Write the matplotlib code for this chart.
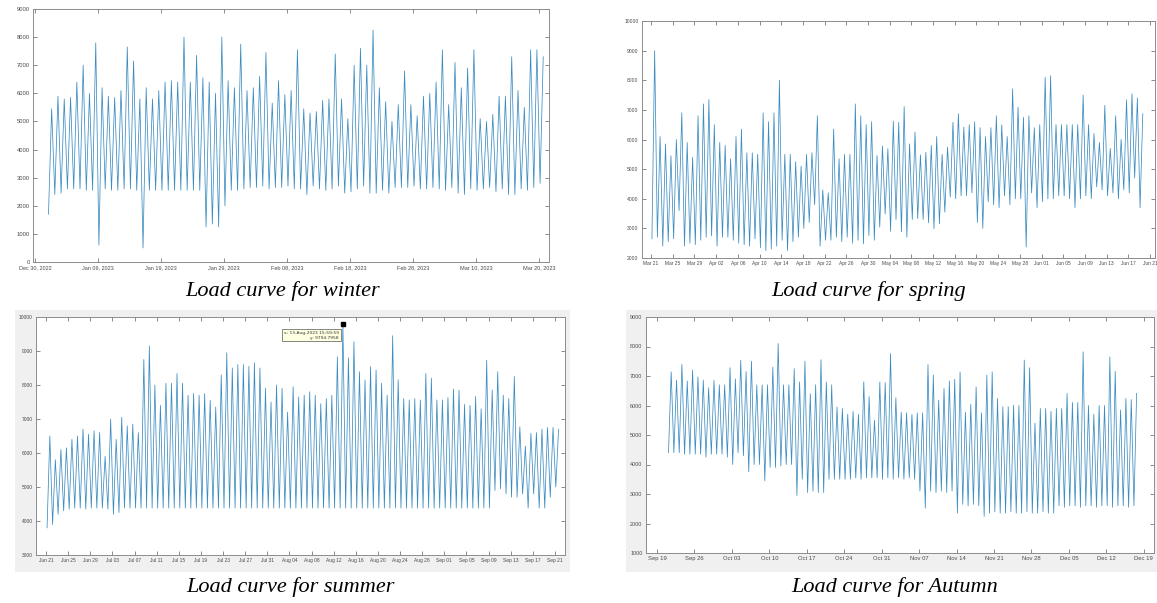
"""seasonal load curves: four panels (winter, spring, summer, autumn)"""

import numpy as np
import pandas as pd
import matplotlib
matplotlib.use("Agg")
import matplotlib.pyplot as plt
import matplotlib.dates as mdates
from matplotlib.patches import Rectangle

###################################################################################################
#                                              DATA                                               #

# daily minimum / maximum load (one value per day)
WINTER_START = "2023-01-01"
winter_low = [
    1700, 2400, 2450, 2600, 2600, 2600, 2550, 2550, 600, 2600,
    2550, 2550, 2600, 2600, 2550, 500, 2550, 2550, 2550, 2550,
    2550, 2550, 2550, 2550, 2550, 1250, 1350, 1250, 2000, 2550,
    2550, 2600, 2650, 2650, 2700, 2600, 2650, 2650, 2700, 2600,
    2600, 2400, 2700, 2600, 2550, 2600, 2700, 2450, 2500, 2600,
    2700, 2450, 2450, 2550, 2450, 2650, 2650, 2650, 2700, 2600,
    2600, 2650, 2600, 2550, 2650, 2450, 2400, 2600, 2550, 2600,
    2650, 2500, 2600, 2400, 2400, 2600, 2550, 2650, 2800,
]
winter_high = [
    5450, 5900, 5800, 5850, 6400, 7000, 6000, 7800, 6200, 5900,
    5850, 6100, 7650, 7150, 5800, 6200, 5800, 6100, 6400, 6450,
    6400, 8000, 6400, 7350, 6550, 6400, 6000, 8000, 6450, 6200,
    7750, 6100, 6200, 6600, 7450, 5650, 6450, 5950, 6100, 7550,
    5450, 5300, 5350, 5750, 5800, 7400, 5800, 5100, 7000, 7600,
    7000, 8250, 6200, 5700, 5000, 5600, 6800, 5600, 5200, 5900,
    6000, 6400, 7550, 5600, 7100, 6200, 6900, 7550, 5100, 5000,
    5250, 5900, 5900, 7300, 6100, 5500, 7550, 7550, 7300,
]

SPRING_START = "2023-03-21"
spring_low = [
    2650, 2700, 2400, 2550, 2650, 3600, 2400, 2500, 2450, 2600,
    2700, 2750, 2400, 2700, 2700, 2600, 2500, 2450, 2400, 2650,
    2350, 2250, 2300, 2400, 2600, 2250, 2550, 2700, 3000, 3200,
    3800, 2400, 2600, 2600, 2700, 2550, 2700, 2500, 2600,
    2480, 2760, 2600, 3040, 3490, 2900, 3300, 2880, 2700, 3300,
    3330, 3300, 3190, 2990, 3160, 3550, 4060, 4000, 4100, 4100,
    4200, 3200, 3000, 3900, 3800, 3700, 4100, 3800, 4000, 4000,
    2370, 4200, 3700, 3900, 4000, 4000, 4100, 4100, 4000, 3700,
    4000, 4100, 4000, 4400, 4300, 4100, 4200, 4000, 4300, 4200,
    4700, 3700,
]
spring_high = [
    9000, 6100, 5850, 5450, 6000, 6900, 5900, 5400, 6800, 7200,
    7350, 6500, 5900, 5800, 5350, 6100, 6350, 5550, 5550, 5500,
    6900, 6600, 6900, 8000, 5500, 5500, 5250, 5100, 5500, 5550,
    6800, 4300, 4200, 6350, 5350, 5500, 5500, 7200, 6800,
    6500, 6600, 5460, 5780, 5690, 6620, 6580, 7110, 5850, 6250,
    5480, 5570, 5800, 6100, 5500, 5740, 6580, 6870, 6420, 6500,
    6600, 6400, 6100, 6400, 6800, 6500, 6100, 7710, 7090, 6750,
    6800, 6400, 6500, 8100, 8150, 6500, 6500, 6500, 6500, 6500,
    7500, 6500, 6200, 5900, 7150, 5700, 6800, 6000, 7340, 7540,
    7400, 6870,
]

SUMMER_START = "2023-06-21"
summer_low = [
    3800, 3900, 4200, 4300, 4350, 4380, 4380, 4350, 4380, 4380,
    4380, 4350, 4200, 4250, 4380, 4380, 4380, 4380, 4380, 4380,
    4380, 4380, 4380, 4380, 4380, 4380, 4380, 4380, 4380, 4380,
    4380, 4380, 4380, 4380, 4380, 4380, 4380, 4380, 4380, 4380,
    4380, 4380, 4380, 4380, 4380, 4380, 4380, 4380, 4380, 4380,
    4380, 4380, 4380, 4380, 4380, 4380, 4380, 4380, 4380, 4380,
    4380, 4380, 4380, 4380, 4380, 4380, 4380, 4380, 4380, 4380,
    4380, 4380, 4380, 4380, 4380, 4380, 4380, 4380, 4380, 4380,
    4380, 4900, 4950, 4800, 4700, 4700, 4800, 4380, 4800, 4380,
    4380, 4700, 5000,
]
summer_high = [
    6500, 5800, 6100, 6150, 6400, 6500, 6700, 6550, 6650, 6600,
    5900, 7000, 6400, 7050, 6800, 6850, 6600, 8750, 9150, 8000,
    7400, 8050, 8050, 8340, 8050, 7700, 7750, 7700, 7750, 7550,
    7350, 8300, 8950, 8500, 8600, 8600, 8550, 8650, 8500, 7900,
    7500, 8000, 7900, 7200,
    7950, 7650, 7700, 7800, 7700, 7450, 7600, 7700, 8830, 9794.7958,
    8800, 9270, 8390, 8150, 8540, 8440, 8050, 7700, 9450, 8150,
    7600, 7560, 7600, 7560, 8340, 8200, 7560, 7560, 7630, 7880,
    7850, 7430, 7400, 7660, 7300, 8730, 7850, 8390, 7700, 7600,
    8250, 6770, 6200, 6580, 6600, 6700, 6750, 6750, 6700,
]

AUTUMN_START = "2023-09-21"
autumn_low = [
    4400, 4400, 4400, 4350, 4350, 4350, 4350, 4250, 4350, 4350,
    4350, 4250, 4000, 4400, 4300, 3750, 4000, 4000, 3450, 3900,
    3900, 3950, 4000, 4000, 2950, 3500, 3050, 3100, 3050, 3050,
    3500, 3500, 3500, 3500, 3500, 3550, 3500, 3550,
    3550, 3550, 3500, 3550, 3500, 3550, 3500, 3550, 3500, 3100,
    2520, 3100, 3050, 3100, 3050, 3100, 2350, 2650, 2600, 2650,
    2600, 2240, 2350, 2400, 2350, 2350, 2400, 2350, 2350, 2400,
    2350, 2350, 2400, 2350, 2350, 2600, 2550, 2600, 2600, 2550,
    2600, 2600, 2550, 2600, 2600, 2550, 2600, 2600, 2550, 2600,
]
autumn_high = [
    7140, 6860, 7390, 6830, 7200, 6970, 6860, 6600, 6850, 6700,
    6700, 7280, 6900, 7530, 7150, 7500, 6700, 6700, 6700, 7300,
    8100, 6700, 6700, 7250, 6800, 7500, 6400, 6700, 7550, 6800,
    6700, 5950, 5900, 5700, 5800, 5700, 6800, 6300,
    5500, 6800, 6780, 7760, 6260, 5770, 5750, 5700, 5750, 5750,
    7390, 7030, 6180, 6580, 6830, 6890, 7140, 5770, 6040, 6630,
    5750, 7030, 7140, 6240, 5960, 5960, 6010, 6000, 7540, 7280,
    5400, 5900, 5900, 5800, 5900, 5900, 6410, 6100, 6100, 7820,
    6000, 5700, 6000, 6000, 7650, 7160, 5850, 6240, 6200, 6410,
]

#                                              DATA                                               #
###################################################################################################


def build_series(start, low, high):
    """Return times and values: daily low in the early morning, daily high in the afternoon."""
    days = pd.date_range(start, periods=len(low), freq="D")
    times, values = [], []
    for day, lo, hi in zip(days, low, high):
        times.append(day + pd.Timedelta(hours=4))
        values.append(lo)
        times.append(day + pd.Timedelta(hours=16))
        values.append(hi)
    return pd.to_datetime(times), np.array(values)


def style_axes(ax, yticks, xticks, fmt, xlim, xsize, ysize):
    ax.set_ylim(yticks[0], yticks[-1])
    ax.set_yticks(yticks)
    ax.set_xticks(xticks)
    ax.xaxis.set_major_formatter(mdates.DateFormatter(fmt))
    ax.set_xlim(xlim)
    ax.tick_params(direction="in", top=True, right=True, length=3, width=0.6,
                   color="#777777", labelcolor="#4a4a4a", pad=2.5)
    ax.tick_params(axis="x", labelsize=xsize)
    ax.tick_params(axis="y", labelsize=ysize)
    for lab in ax.get_xticklabels() + ax.get_yticklabels():
        lab.set_family(["Liberation Sans", "DejaVu Sans"])
    for sp in ax.spines.values():
        sp.set_color("#8c8c8c")
        sp.set_linewidth(0.7)


LINE_KW = dict(color="#3b8cc1", lw=0.55)
CAP_KW = dict(ha="center", va="center", fontsize=16, style="italic",
              family=["Liberation Serif", "DejaVu Serif"])

fig = plt.figure(figsize=(11.57, 6.03), dpi=100)

# grey window backgrounds of the two lower screenshots
fig.add_artist(Rectangle((15/1157, 1-572/603), 555/1157, 262/603, transform=fig.transFigure,
                         facecolor="#f0f0f0", edgecolor="none", zorder=0))
fig.add_artist(Rectangle((626/1157, 1-572/603), 531/1157, 262/603, transform=fig.transFigure,
                         facecolor="#f0f0f0", edgecolor="none", zorder=0))

# winter
ax = fig.add_axes([33/1157, 1-262/603, 516/1157, 253/603])
t, v = build_series(WINTER_START, winter_low, winter_high)
ax.plot(t, v, **LINE_KW)
style_axes(ax, np.arange(0, 9001, 1000), pd.date_range("2022-12-30", periods=9, freq="10D"),
           "%b %d, %Y", (pd.Timestamp("2022-12-29 17:00"), pd.Timestamp("2023-03-21 14:00")),
           4.0, 4.2)

# spring
ax = fig.add_axes([642/1157, 1-258/603, 513/1157, 237/603])
t, v = build_series(SPRING_START, spring_low, spring_high)
ax.plot(t, v, **LINE_KW)
style_axes(ax, np.arange(2000, 10001, 1000), pd.date_range("2023-03-21", "2023-06-21", freq="4D"),
           "%b %d", (pd.Timestamp("2023-03-19 08:00"), pd.Timestamp("2023-06-21 22:00")),
           3.5, 3.6)

# summer
ax = fig.add_axes([36/1157, 1-555/603, 529/1157, 238/603])
t, v = build_series(SUMMER_START, summer_low, summer_high)
ax.plot(t, v, **LINE_KW)
style_axes(ax, np.arange(3000, 10001, 1000), pd.date_range("2023-06-21", "2023-09-21", freq="4D"),
           "%b %d", (pd.Timestamp("2023-06-19 04:00"), pd.Timestamp("2023-09-22 20:00")),
           3.5, 3.5)
# data tip on the highest point
k = int(np.argmax(v))
ax.plot(t[k], v[k], "s", color="black", ms=2.5, zorder=5)
ax.annotate("x: 13-Aug-2023 15:59:59\ny: 9794.7958", xy=(t[k], v[k]), xytext=(-3, -5),
            textcoords="offset points", ha="right", va="top", fontsize=3.2, color="#333333",
            bbox=dict(boxstyle="square,pad=0.4", facecolor="#ffffe1", edgecolor="#555555", lw=0.5))

# autumn
ax = fig.add_axes([646/1157, 1-553/603, 508/1157, 236/603])
t, v = build_series(AUTUMN_START, autumn_low, autumn_high)
ax.plot(t, v, **LINE_KW)
style_axes(ax, np.arange(1000, 9001, 1000), pd.date_range("2023-09-19", "2023-12-19", freq="7D"),
           "%b %d", (pd.Timestamp("2023-09-16 23:00"), pd.Timestamp("2023-12-20 22:00")),
           4.2, 3.9)

# captions
fig.text(283/1157, 1-291/603, "Load curve for winter", **CAP_KW)
fig.text(869/1157, 1-291/603, "Load curve for spring", **CAP_KW)
fig.text(290/1157, 1-587/603, "Load curve for summer", **CAP_KW)
fig.text(895/1157, 1-587/603, "Load curve for Autumn", **CAP_KW)

fig.savefig("out.png", dpi=100)
